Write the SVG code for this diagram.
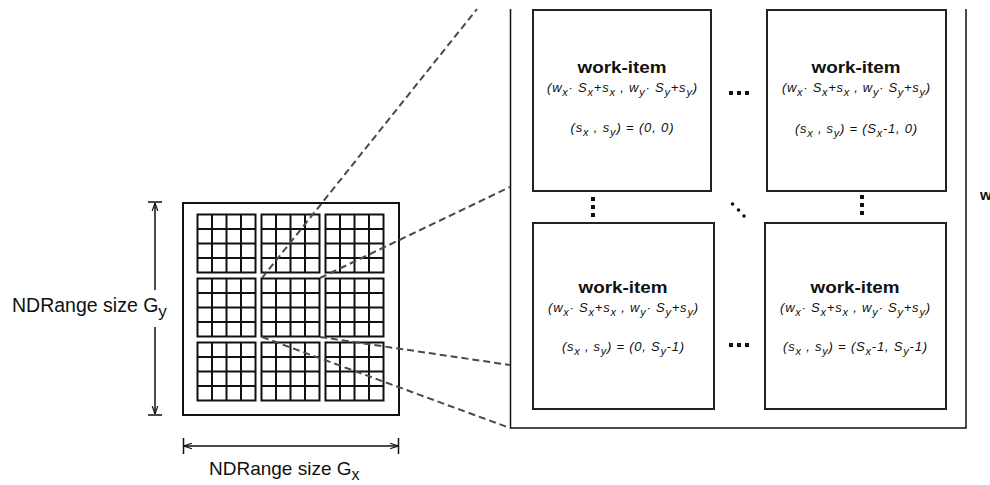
<svg xmlns="http://www.w3.org/2000/svg" width="990" height="485" viewBox="0 0 990 485">
<style>
.bx{fill:#fff;stroke:#222;stroke-width:2}
.gl{fill:none;stroke:#111;stroke-width:2}
.ds{fill:none;stroke:#4a4a4a;stroke-width:2;stroke-dasharray:7 4}
.ln{fill:none;stroke:#111;stroke-width:1.5}
.t{font-family:"Liberation Sans",Arial,sans-serif;fill:#111}
.wi{font-family:"Liberation Sans",Arial,sans-serif;font-weight:bold;font-size:17px;text-anchor:middle;fill:#111}
.f{font-family:"Liberation Sans",Arial,sans-serif;font-style:italic;font-size:13px;text-anchor:middle;fill:#111}
.s{font-size:11px}
.dot{fill:#111}
</style>
<defs>
<g id="blk">
<rect class="gl" x="0" y="0" width="58" height="58"/>
<path class="gl" d="M14.5 0V58M29 0V58M43.5 0V58M0 14.5H58M0 29H58M0 43.5H58"/>
</g>
<marker id="ah" viewBox="0 0 10 10" refX="10" refY="5" markerWidth="8" markerHeight="8" markerUnits="userSpaceOnUse" orient="auto">
<path d="M0 1.5L10 5L0 8.5" fill="none" stroke="#111" stroke-width="1.5"/>
</marker>
</defs>

<g id="ndrange">
<rect class="gl" x="183" y="203" width="216" height="212" stroke-width="1.8"/>
<use id="wg00" href="#blk" x="197.5" y="214.5"/>
<use id="wg10" href="#blk" x="261.5" y="214.5"/>
<use id="wg20" href="#blk" x="325.5" y="214.5"/>
<use id="wg01" href="#blk" x="197.5" y="278.5"/>
<use id="wg11" href="#blk" x="261.5" y="278.5"/>
<use id="wg21" href="#blk" x="325.5" y="278.5"/>
<use id="wg02" href="#blk" x="197.5" y="342.5"/>
<use id="wg12" href="#blk" x="261.5" y="342.5"/>
<use id="wg22" href="#blk" x="325.5" y="342.5"/>
</g>

<g id="dimension-y">
<path class="ln" d="M148 202H162M148 415H162"/>
<path class="ln" d="M155 290V203" marker-end="url(#ah)"/>
<path class="ln" d="M155 327V414" marker-end="url(#ah)"/>
<text class="t" x="12" y="312" font-size="19.5">NDRange size G<tspan font-size="17" dy="5">y</tspan></text>
</g>

<g id="dimension-x">
<path class="ln" d="M183.5 438V454M398.5 438V454"/>
<path class="ln" d="M290 446H184" marker-end="url(#ah)"/>
<path class="ln" d="M290 446H398" marker-end="url(#ah)"/>
<text class="t" x="209" y="475" font-size="19">NDRange size G<tspan font-size="16" dy="5">x</tspan></text>
</g>

<g id="work-group">
<path class="ln" d="M510.5 9V428H966V9" stroke-width="2"/>
<text class="t" x="980" y="200" font-size="15" font-weight="bold">w</text>
</g>

<g id="wi-0-0">
<rect class="bx" x="533" y="10" width="178" height="181"/>
<text class="wi" x="622" y="73" textLength="89" lengthAdjust="spacingAndGlyphs">work-item</text>
<text class="f" x="622" y="92" textLength="150">(w<tspan class="s" dy="4">x</tspan><tspan dy="-4">· S</tspan><tspan class="s" dy="4">x</tspan><tspan dy="-4">+s</tspan><tspan class="s" dy="4">x</tspan><tspan dy="-4"> , w</tspan><tspan class="s" dy="4">y</tspan><tspan dy="-4">· S</tspan><tspan class="s" dy="4">y</tspan><tspan dy="-4">+s</tspan><tspan class="s" dy="4">y</tspan><tspan dy="-4">)</tspan></text>
<text class="f" x="622" y="132" textLength="103">(s<tspan class="s" dy="4">x</tspan><tspan dy="-4"> , s</tspan><tspan class="s" dy="4">y</tspan><tspan dy="-4">) = (0, 0)</tspan></text>
</g>

<g id="wi-n-0">
<rect class="bx" x="767" y="10" width="179" height="181"/>
<text class="wi" x="856" y="73" textLength="89" lengthAdjust="spacingAndGlyphs">work-item</text>
<text class="f" x="856" y="92" textLength="148">(w<tspan class="s" dy="4">x</tspan><tspan dy="-4">· S</tspan><tspan class="s" dy="4">x</tspan><tspan dy="-4">+s</tspan><tspan class="s" dy="4">x</tspan><tspan dy="-4"> , w</tspan><tspan class="s" dy="4">y</tspan><tspan dy="-4">· S</tspan><tspan class="s" dy="4">y</tspan><tspan dy="-4">+s</tspan><tspan class="s" dy="4">y</tspan><tspan dy="-4">)</tspan></text>
<text class="f" x="856" y="133" textLength="122">(s<tspan class="s" dy="4">x</tspan><tspan dy="-4"> , s</tspan><tspan class="s" dy="4">y</tspan><tspan dy="-4">) = (S</tspan><tspan class="s" dy="4">x</tspan><tspan dy="-4">-1, 0)</tspan></text>
</g>

<g id="wi-0-n">
<rect class="bx" x="533" y="223" width="181" height="186"/>
<text class="wi" x="623" y="293" textLength="89" lengthAdjust="spacingAndGlyphs">work-item</text>
<text class="f" x="623" y="312" textLength="150">(w<tspan class="s" dy="4">x</tspan><tspan dy="-4">· S</tspan><tspan class="s" dy="4">x</tspan><tspan dy="-4">+s</tspan><tspan class="s" dy="4">x</tspan><tspan dy="-4"> , w</tspan><tspan class="s" dy="4">y</tspan><tspan dy="-4">· S</tspan><tspan class="s" dy="4">y</tspan><tspan dy="-4">+s</tspan><tspan class="s" dy="4">y</tspan><tspan dy="-4">)</tspan></text>
<text class="f" x="623" y="351" textLength="122">(s<tspan class="s" dy="4">x</tspan><tspan dy="-4"> , s</tspan><tspan class="s" dy="4">y</tspan><tspan dy="-4">) = (0, S</tspan><tspan class="s" dy="4">y</tspan><tspan dy="-4">-1)</tspan></text>
</g>

<g id="wi-n-n">
<rect class="bx" x="765" y="223" width="181" height="186"/>
<text class="wi" x="855" y="293" textLength="89" lengthAdjust="spacingAndGlyphs">work-item</text>
<text class="f" x="855" y="312" textLength="150">(w<tspan class="s" dy="4">x</tspan><tspan dy="-4">· S</tspan><tspan class="s" dy="4">x</tspan><tspan dy="-4">+s</tspan><tspan class="s" dy="4">x</tspan><tspan dy="-4"> , w</tspan><tspan class="s" dy="4">y</tspan><tspan dy="-4">· S</tspan><tspan class="s" dy="4">y</tspan><tspan dy="-4">+s</tspan><tspan class="s" dy="4">y</tspan><tspan dy="-4">)</tspan></text>
<text class="f" x="855" y="351" textLength="144">(s<tspan class="s" dy="4">x</tspan><tspan dy="-4"> , s</tspan><tspan class="s" dy="4">y</tspan><tspan dy="-4">) = (S</tspan><tspan class="s" dy="4">x</tspan><tspan dy="-4">-1, S</tspan><tspan class="s" dy="4">y</tspan><tspan dy="-4">-1)</tspan></text>
</g>

<g id="ellipses">
<rect class="dot" x="729" y="91" width="4" height="4"/>
<rect class="dot" x="737" y="91" width="4" height="4"/>
<rect class="dot" x="745" y="91" width="4" height="4"/>
<rect class="dot" x="729" y="343" width="4" height="4"/>
<rect class="dot" x="737" y="343" width="4" height="4"/>
<rect class="dot" x="745" y="343" width="4" height="4"/>
<rect class="dot" x="591" y="197" width="4" height="4"/>
<rect class="dot" x="591" y="205" width="4" height="4"/>
<rect class="dot" x="591" y="213" width="4" height="4"/>
<rect class="dot" x="860" y="195" width="4" height="4"/>
<rect class="dot" x="860" y="203" width="4" height="4"/>
<rect class="dot" x="860" y="211" width="4" height="4"/>
<circle class="dot" cx="732.5" cy="204" r="1.8"/>
<circle class="dot" cx="738.5" cy="210" r="1.8"/>
<circle class="dot" cx="744" cy="216" r="1.8"/>
</g>

<g id="connectors">
<path class="ds" d="M262 278L477 9"/>
<path class="ds" d="M320 278L510 187"/>
<path class="ds" d="M320 337L510 365"/>
<path class="ds" d="M262 337L510 428"/>
</g>
</svg>
